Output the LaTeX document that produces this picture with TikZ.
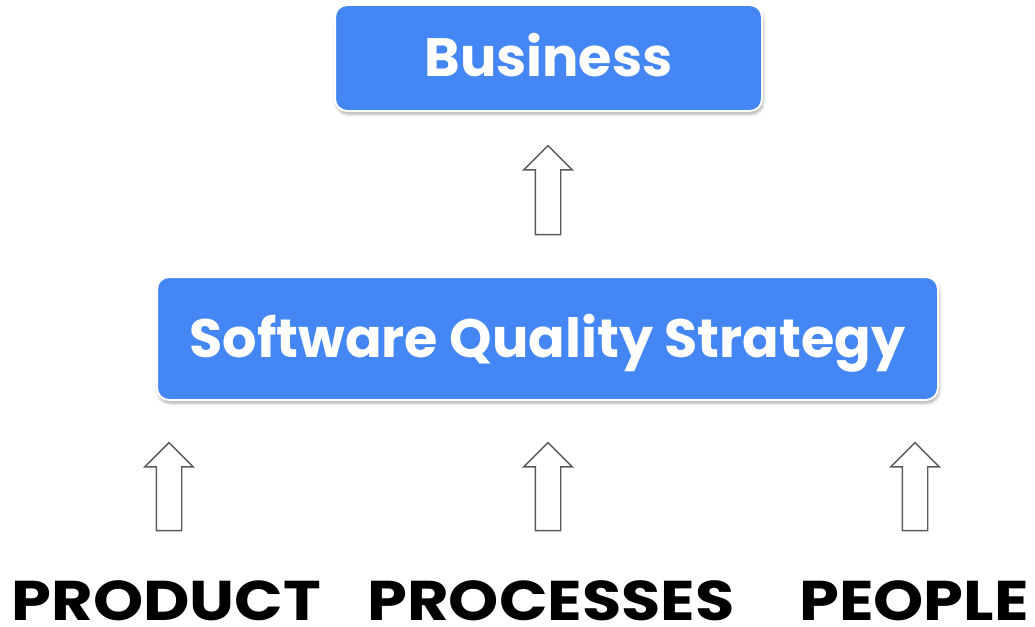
\documentclass[tikz,border=0pt]{standalone}
\usepackage{fontspec}
\setmainfont{Poppins}
\newfontfamily\pillarfont{Poppins}[FakeStretch=1.14]
\usetikzlibrary{shapes.arrows, shadows.blur}
\definecolor{BoxBlue}{HTML}{4487F4}
\definecolor{EdgeGray}{HTML}{5A5A5A}
\tikzset{
  tier/.style={
    rectangle, rounded corners=12pt,
    draw=white, line width=2pt, fill=BoxBlue, text=white,
    font=\fontsize{54}{60}\selectfont\bfseries,
    inner sep=0pt, text height=38pt, text depth=0pt,
    blur shadow={shadow xshift=1pt, shadow yshift=-3pt,
      shadow blur radius=3pt, shadow opacity=35},
  },
  uparr/.style={
    single arrow, rotate=90, draw=EdgeGray, fill=white,
    line width=1.4pt, inner sep=0pt, text height=12pt, text depth=12pt,
    minimum width=47pt, single arrow head extend=11.5pt,
    single arrow head indent=0pt,
  },
  pillar/.style={
    font=\pillarfont\fontsize{56}{60}\selectfont\bfseries, text=black,
    inner sep=0pt, text depth=0pt, anchor=base,
  },
}
\begin{document}
\begin{tikzpicture}[x=1pt,y=-1pt]
  \useasboundingbox (0,0) rectangle (1035,626);

  \node[tier, minimum width=427pt, minimum height=106pt] (biz) at (548.5,58)  {Business};
  \node[tier, minimum width=781pt, minimum height=123pt] (sqs) at (547.5,338.5) {Software Quality Strategy};

  \node[uparr, minimum height=89pt] (up0) at (548,196.5) {};

  \node[uparr, minimum height=88pt] (up1) at (169,493) {};
  \node[uparr, minimum height=88pt] (up2) at (548,493) {};
  \node[uparr, minimum height=88pt] (up3) at (915,493) {};

  \node[pillar] (prod) at (166.5,620) {PRODUCT};
  \node[pillar] (proc) at (551,620)   {PROCESSES};
  \node[pillar] (ppl)  at (914,620)   {PEOPLE};
\end{tikzpicture}
\end{document}
